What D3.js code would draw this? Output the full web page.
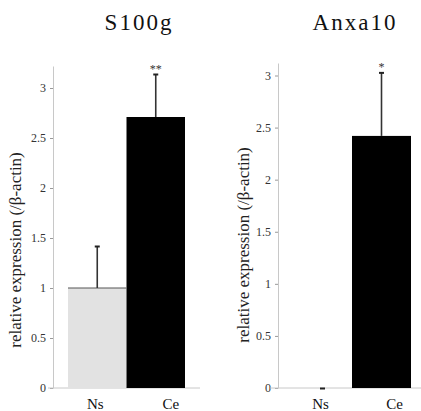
<!DOCTYPE html>
<html>
<head>
<meta charset="utf-8">
<script src="https://cdn.jsdelivr.net/npm/d3@7"></script>
<style>
  body { margin: 0; background: #fff; }
  svg text { font-family: "Liberation Serif", "DejaVu Serif", serif; }
</style>
</head>
<body>
<svg id="chart" width="421" height="411"></svg>
<script>
// values
const categories = ['Ns', 'Ce']
const s100gMean = [1.0, 2.71]
const s100gErr = [0.42, 0.43]
const anxa10Mean = [0.0, 2.42]
const anxa10Err = [0.0, 0.61]
const marks = ['', '**']
const marksAnxa = ['', '*']
const tickValues = [0, 0.5, 1, 1.5, 2, 2.5, 3]
const tickLabels = ['0', '0.5', '1', '1.5', '2', '2.5', '3']
const colors = ['#e2e2e2', '#000000']
const yTitle = 'relative expression (/β-actin)'

const svg = d3.select('#chart')

/**
 * Draws one bar panel with its own scales
 */
function panel (p) {
  const g = svg.append('g')
  const y = d3.scaleLinear().domain([0, p.yMax]).range([388, p.top])
  const x = d3.scaleBand().domain(categories).range(p.bars).padding(0)

  // y axis
  const ax = g.append('g')
    .attr('transform', `translate(${p.axisX},0)`)
    .call(d3.axisLeft(y).tickValues(tickValues)
      .tickFormat((d, i) => tickLabels[i]).tickSize(3).tickPadding(4).tickSizeOuter(0))
  ax.attr('font-family', null).attr('font-size', null)
  ax.select('.domain').attr('stroke', '#c8c8c8')
  ax.selectAll('.tick line').attr('stroke', '#999')
  ax.selectAll('.tick text').attr('font-size', 12).attr('fill', '#333')

  // x axis line
  g.append('line')
    .attr('x1', p.xLine[0]).attr('x2', p.xLine[1])
    .attr('y1', y(0)).attr('y2', y(0))
    .attr('stroke', '#c8c8c8')

  // bars
  g.selectAll('rect.bar')
    .data(categories)
    .enter()
    .append('rect')
    .attr('class', 'bar')
    .attr('x', d => x(d))
    .attr('width', x.bandwidth())
    .attr('y', (d, i) => y(p.mean[i]))
    .attr('height', (d, i) => y(0) - y(p.mean[i]))
    .attr('fill', (d, i) => colors[i])

  // mean line on the light bar
  g.append('line')
    .attr('x1', x(categories[0])).attr('x2', x(categories[0]) + x.bandwidth())
    .attr('y1', y(p.mean[0])).attr('y2', y(p.mean[0]))
    .attr('stroke', p.mean[0] > 0 ? '#555' : 'none')

  // error bars
  const cx = d => x(d) + x.bandwidth() / 2
  g.selectAll('line.err')
    .data(categories)
    .enter()
    .append('line')
    .attr('class', 'err')
    .attr('x1', cx).attr('x2', cx)
    .attr('y1', (d, i) => y(p.mean[i]))
    .attr('y2', (d, i) => y(p.mean[i] + p.err[i]))
    .attr('stroke', '#333')
    .attr('stroke-width', 1.6)
  g.selectAll('line.cap')
    .data(categories)
    .enter()
    .append('line')
    .attr('class', 'cap')
    .attr('x1', d => cx(d) - 2.5).attr('x2', d => cx(d) + 2.5)
    .attr('y1', (d, i) => y(p.mean[i] + p.err[i]) + 0.5)
    .attr('y2', (d, i) => y(p.mean[i] + p.err[i]) + 0.5)
    .attr('stroke', '#222')
    .attr('stroke-width', 2)

  // significance stars
  g.selectAll('text.sig')
    .data(categories)
    .enter()
    .append('text')
    .attr('class', 'sig')
    .attr('x', cx)
    .attr('y', (d, i) => y(p.mean[i] + p.err[i]) - 1)
    .attr('text-anchor', 'middle')
    .attr('font-size', 12)
    .attr('fill', '#333')
    .text((d, i) => p.marks[i])

  // category labels
  g.selectAll('text.cat')
    .data(categories)
    .enter()
    .append('text')
    .attr('class', 'cat')
    .attr('x', (d, i) => cx(d) + p.labelShift[i])
    .attr('y', 409)
    .attr('text-anchor', 'middle')
    .attr('font-size', 15)
    .attr('fill', '#111')
    .text(d => d)

  // y title
  g.append('text')
    .attr('transform', `translate(${p.titleX},${p.titleY}) rotate(-90)`)
    .attr('text-anchor', 'middle')
    .attr('font-size', 17)
    .attr('fill', '#222')
    .text(yTitle)

  // panel title
  g.append('text')
    .attr('x', p.nameX)
    .attr('y', 30)
    .attr('text-anchor', 'middle')
    .attr('font-size', 23)
    .attr('letter-spacing', 2)
    .attr('fill', '#111')
    .text(p.name)
}

panel({
  name: 'S100g', nameX: 139, mean: s100gMean, err: s100gErr, marks: marks,
  yMax: 3.22, top: 66, axisX: 53, bars: [68, 185], xLine: [48, 200],
  labelShift: [-2, 15], titleX: 21, titleY: 250
})
panel({
  name: 'Anxa10', nameX: 355, mean: anxa10Mean, err: anxa10Err, marks: marksAnxa,
  yMax: 3.12, top: 63, axisX: 278, bars: [293, 411], xLine: [270, 421],
  labelShift: [-2, 13], titleX: 249, titleY: 245
})
</script>
</body>
</html>
